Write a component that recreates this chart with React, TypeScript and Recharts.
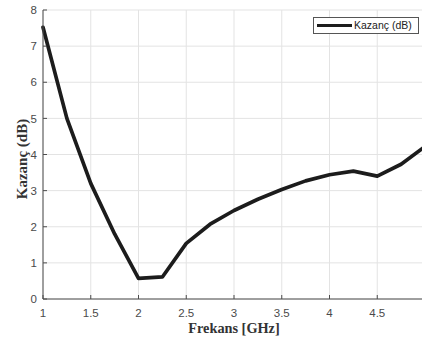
import React from "react";
import {
  LineChart,
  Line,
  XAxis,
  YAxis,
  CartesianGrid,
  Legend,
  Label,
} from "recharts";

// Antenna gain sweep, 1–5 GHz in 0.25 GHz steps
const freqGHz = [1, 1.25, 1.5, 1.75, 2, 2.25, 2.5, 2.75, 3, 3.25, 3.5, 3.75, 4, 4.25, 4.5, 4.75, 5];
const gainDb = [7.52, 5.0, 3.2, 1.8, 0.57, 0.61, 1.54, 2.07, 2.45, 2.76, 3.03, 3.27, 3.44, 3.54, 3.4, 3.73, 4.22];

const xTicks = [1, 1.5, 2, 2.5, 3, 3.5, 4, 4.5, 5];
const yTicks = [0, 1, 2, 3, 4, 5, 6, 7, 8];

const seriesName = "Kazanç (dB)";
const xTitle = "Frekans [GHz]";
const yTitle = "Kazanç (dB)";

const data = freqGHz.map((f, i) => ({ f, gain: gainDb[i] }));

const TICK_FONT = "'Liberation Sans', Arial, sans-serif";
const TITLE_FONT = "'Liberation Serif', 'Times New Roman', serif";
const TICK_COLOR = "#4a4a4a";
const SPINE = "#4d4d4d";
const GRID = "#e3e3e3";

const BottomTick = (props: any) => {
  const { x, y, payload } = props;
  return (
    <g>
      <line x1={x} x2={x} y1={y} y2={y - 4} stroke={SPINE} strokeWidth={1} />
      {payload.value < 5 && (
        <text
          x={x}
          y={y + 18}
          textAnchor="middle"
          fontFamily={TICK_FONT}
          fontSize={11.5}
          fill={TICK_COLOR}
        >
          {String(payload.value)}
        </text>
      )}
    </g>
  );
};

const TopTick = (props: any) => {
  const { x, y } = props;
  return <line x1={x} x2={x} y1={y} y2={y + 4} stroke={SPINE} strokeWidth={1} />;
};

const LeftTick = (props: any) => {
  const { x, y, payload } = props;
  return (
    <g>
      <line x1={x} x2={x + 4} y1={y} y2={y} stroke={SPINE} strokeWidth={1} />
      <text
        x={x - 6}
        y={y}
        dy="0.36em"
        textAnchor="end"
        fontFamily={TICK_FONT}
        fontSize={11.5}
        fill={TICK_COLOR}
      >
        {String(payload.value)}
      </text>
    </g>
  );
};

const LegendBox = (props: any) => {
  const items = props.payload || [];
  return (
    <div>
      {items.map((it: any) => (
        <svg key={it.value} width={106} height={17} style={{ display: "block" }}>
          <rect x={0.5} y={0.5} width={105} height={16} fill="#ffffff" stroke="#555" strokeWidth={1} />
          <line x1={4} x2={39} y1={8.5} y2={8.5} stroke="#1c1c1c" strokeWidth={3} />
          <text x={41} y={12.2} fontFamily={TICK_FONT} fontSize={10.5} fill="#222">
            {it.value}
          </text>
        </svg>
      ))}
    </div>
  );
};

export default function App() {
  return (
    <div
      style={{
        position: "absolute",
        left: 0,
        top: 0,
        width: 422,
        height: 338,
        overflow: "hidden",
        background: "#ffffff",
      }}
    >
      <LineChart
        width={432}
        height={338}
        data={data}
        margin={{ top: 10, right: 7, bottom: 0, left: 0 }}
      >
        <CartesianGrid stroke={GRID} strokeWidth={1} />
        <XAxis
          dataKey="f"
          type="number"
          domain={[1, 5]}
          ticks={xTicks}
          height={39}
          tickSize={0}
          tickMargin={0}
          tickLine={false}
          axisLine={{ stroke: SPINE, strokeWidth: 1 }}
          tick={<BottomTick />}
          interval={0}
        >
          <Label
            content={(p: any) => {
              const vb = p.viewBox;
              return (
                <text
                  x={vb.x + vb.width / 2}
                  y={vb.y + 34}
                  textAnchor="middle"
                  fontFamily={TITLE_FONT}
                  fontWeight="bold"
                  fontSize={14.3}
                  fill="#333"
                >
                  {xTitle}
                </text>
              );
            }}
          />
        </XAxis>
        <XAxis
          xAxisId="top"
          orientation="top"
          dataKey="f"
          type="number"
          domain={[1, 5]}
          ticks={xTicks}
          height={0}
          tickSize={0}
          tickMargin={0}
          tickLine={false}
          axisLine={{ stroke: SPINE, strokeWidth: 1 }}
          tick={<TopTick />}
          interval={0}
        />
        <YAxis
          type="number"
          domain={[0, 8]}
          ticks={yTicks}
          width={43}
          tickSize={0}
          tickMargin={0}
          tickLine={false}
          axisLine={{ stroke: SPINE, strokeWidth: 1 }}
          tick={<LeftTick />}
          interval={0}
        >
          <Label
            content={(p: any) => {
              const vb = p.viewBox;
              const cx = vb.x + 27;
              const cy = vb.y + vb.height / 2 + 4.5;
              return (
                <text
                  x={cx}
                  y={cy}
                  transform={`rotate(-90 ${cx} ${cy})`}
                  textAnchor="middle"
                  fontFamily={TITLE_FONT}
                  fontWeight="bold"
                  fontSize={15}
                  fill="#333"
                >
                  {yTitle}
                </text>
              );
            }}
          />
        </YAxis>
        <Legend
          layout="horizontal"
          verticalAlign="middle"
          align="center"
          content={<LegendBox />}
          wrapperStyle={{ position: "absolute", left: 313, top: 17, width: 106, height: 17 }}
        />
        <Line
          type="linear"
          dataKey="gain"
          name={seriesName}
          stroke="#1c1c1c"
          strokeWidth={3.7}
          strokeLinejoin="round"
          strokeLinecap="round"
          dot={false}
          activeDot={false}
          isAnimationActive={false}
        />
      </LineChart>
    </div>
  );
}
